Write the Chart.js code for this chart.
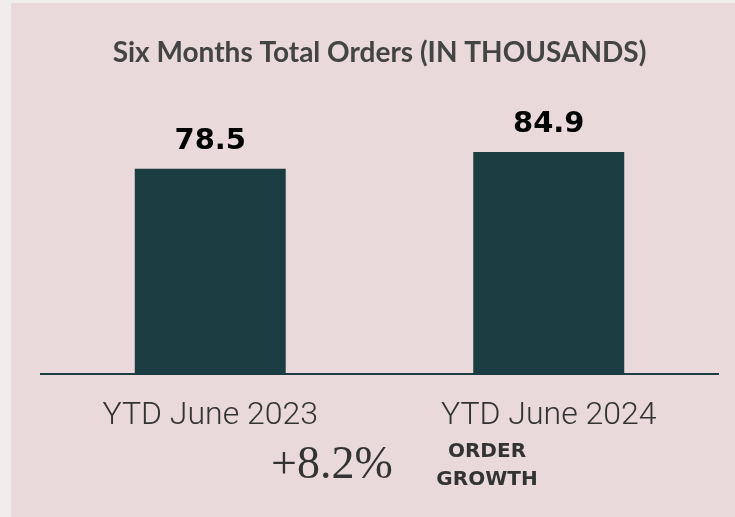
<!DOCTYPE html>
<html>
<head>
<meta charset="utf-8">
<script src="https://cdn.jsdelivr.net/npm/chart.js@4"></script>
<style>
  html, body { margin: 0; padding: 0; background: #f2eded; }
  #panel { position: absolute; left: 11px; top: 3px; width: 724px; height: 514px; background: #e9d9da; }
</style>
</head>
<body>
<div id="panel"><canvas id="Chart" width="724" height="514"></canvas></div>
<script>
const categories = ["YTD June 2023", "YTD June 2024"];
const orders = [78.5, 84.9];
const chartTitle = "Six Months Total Orders (IN THOUSANDS)";
const growthValue = "+8.2%";
const growthLabel = ["ORDER", "GROWTH"];

const barColor = "#1b3c40";

// value labels over each bar
const valueLabels = {
  id: "valueLabels",
  afterDatasetsDraw(chart) {
    const ctx = chart.ctx;
    const meta = chart.getDatasetMeta(0);
    ctx.save();
    ctx.font = "bold 29px 'DejaVu Sans'";
    ctx.fillStyle = "#000";
    ctx.textAlign = "center";
    ctx.textBaseline = "alphabetic";
    meta.data.forEach((bar, i) => {
      ctx.fillText(orders[i].toFixed(1), bar.x, bar.y - 20);
    });
    ctx.restore();
  }
};

// growth note under the axis
const growthNote = {
  id: "growthNote",
  afterDraw(chart) {
    const ctx = chart.ctx;
    ctx.save();
    ctx.fillStyle = "#333";
    ctx.textAlign = "center";
    ctx.textBaseline = "alphabetic";
    ctx.font = "46px 'Liberation Serif'";
    ctx.fillText(growthValue, 321, 475);
    ctx.font = "bold 20px 'DejaVu Sans'";
    ctx.fillText(growthLabel[0], 476, 454);
    ctx.fillText(growthLabel[1], 476, 482);
    ctx.restore();
  }
};

const ctx = document.getElementById("Chart").getContext("2d");
new Chart(ctx, {
  type: "bar",
  data: {
    labels: categories,
    datasets: [{
      data: orders,
      backgroundColor: barColor,
      categoryPercentage: 1,
      barPercentage: 0.446
    }]
  },
  options: {
    responsive: false,
    animation: false,
    layout: { padding: { top: 33, left: 30, right: 17, bottom: 59 } },
    plugins: {
      legend: { display: false },
      tooltip: { enabled: false },
      title: {
        display: true,
        text: chartTitle,
        color: "#444",
        font: { family: "Lato", size: 28, weight: "bold" },
        padding: { top: 0, bottom: 43 }
      }
    },
    scales: {
      x: {
        grid: { display: false, drawTicks: false },
        border: { color: barColor, width: 2 },
        ticks: {
          color: "#333",
          font: { family: "Roboto", size: 32, weight: 300 },
          padding: 23
        }
      },
      y: {
        display: false,
        min: 0,
        max: 100
      }
    }
  },
  plugins: [valueLabels, growthNote]
});
</script>
</body>
</html>
